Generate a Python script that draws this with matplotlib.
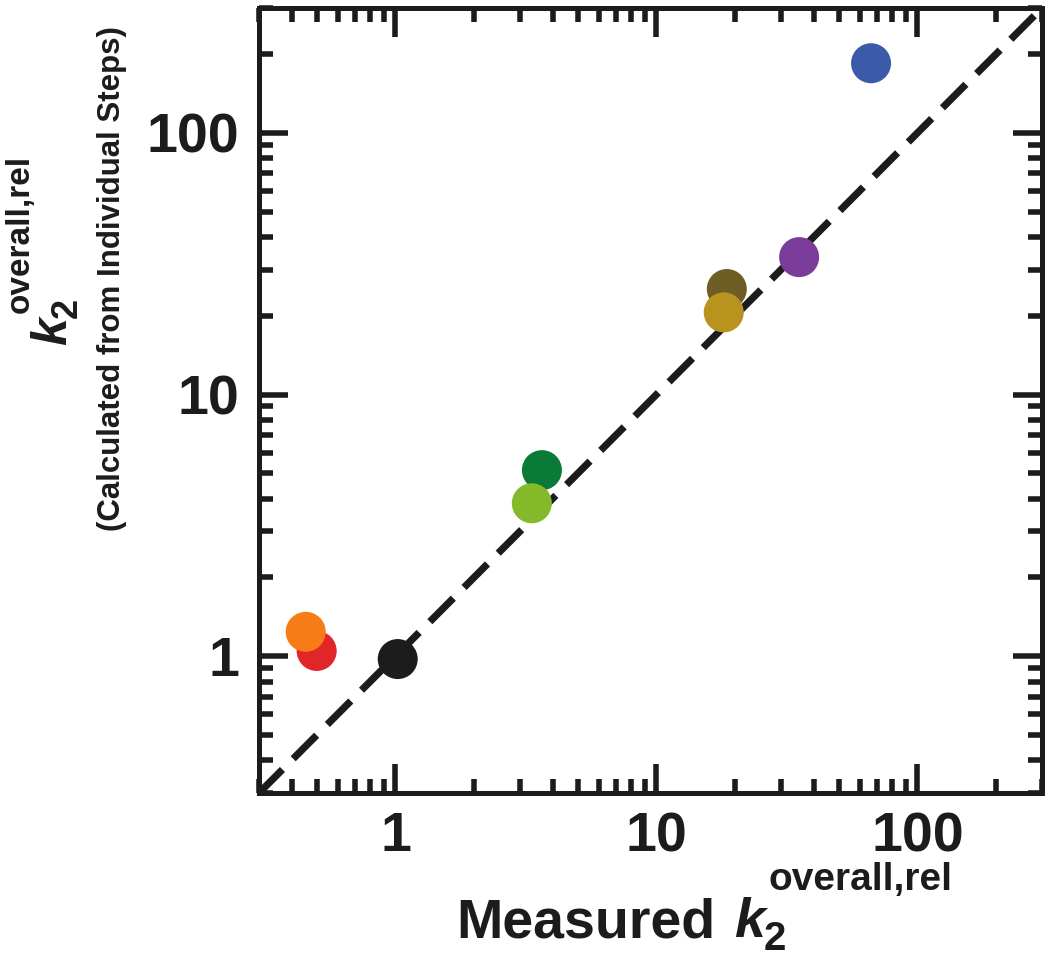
import matplotlib
matplotlib.use("Agg")
import matplotlib.pyplot as plt
from matplotlib import ticker, font_manager
from matplotlib.transforms import IdentityTransform

# ---- data ----
measured = [66.4, 35.2, 18.6, 18.1, 3.64, 3.33, 1.02, 0.499, 0.453]
calculated = [184.5, 33.5, 25.3, 20.6, 5.14, 3.84, 0.975, 1.047, 1.239]
colors = ["#3B5BAA", "#7B3B98", "#6E5E25", "#B8931E", "#0A7A36",
          "#84B92A", "#1C1C1C", "#E1262A", "#F77B16"]
lims = [0.3, 300]
tick_values = [1, 10, 100]
tick_labels = ["1", "10", "100"]


def has_font(name):
    try:
        font_manager.findfont(font_manager.FontProperties(family=name), fallback_to_default=False)
        return True
    except Exception:
        return False


narrow = has_font('Liberation Sans Narrow')
INK = '#1C1C1C'

W, H = 1050, 956
fig = plt.figure(figsize=(W / 100, H / 100), dpi=100)
ax = fig.add_axes([259 / W, 1 - 793 / H, 783 / W, 785 / H])
ax.set_xscale('log')
ax.set_yscale('log')
ax.set_xlim(lims)
ax.set_ylim(lims)

ax.plot(lims, lims, color=INK, lw=5.2, dashes=(4.6, 2.1),
        solid_capstyle='butt', dash_capstyle='butt', zorder=1)

for x, y, c in zip(measured, calculated, colors):
    ax.scatter([x], [y], s=830, color=c, edgecolors='none', zorder=3)

for sp in ax.spines.values():
    sp.set_linewidth(3.6)
    sp.set_color(INK)

ax.xaxis.set_major_locator(ticker.FixedLocator(tick_values))
ax.yaxis.set_major_locator(ticker.FixedLocator(tick_values))
ax.xaxis.set_major_formatter(ticker.FixedFormatter(tick_labels))
ax.yaxis.set_major_formatter(ticker.FixedFormatter(tick_labels))
ax.xaxis.set_minor_locator(ticker.LogLocator(base=10, subs=range(2, 10)))
ax.yaxis.set_minor_locator(ticker.LogLocator(base=10, subs=range(2, 10)))
ax.xaxis.set_minor_formatter(ticker.NullFormatter())
ax.yaxis.set_minor_formatter(ticker.NullFormatter())

ax.tick_params(which='both', direction='in', top=True, right=True, color=INK)
ax.tick_params(which='major', length=21, width=4)
ax.tick_params(which='minor', length=10, width=4)
ax.tick_params(axis='x', which='major', pad=13)
ax.tick_params(axis='y', which='major', pad=14)
for lab in ax.get_xticklabels() + ax.get_yticklabels():
    lab.set_fontsize(40)
    lab.set_fontweight('bold')
    lab.set_family('Liberation Sans')
    lab.set_color(INK)

renderer = fig.canvas.get_renderer()
ident = IdentityTransform()  # figure pixel coordinates, origin bottom-left


def put(x, y, s, size, style='normal', rot=0):
    t = fig.text(x, y, s, transform=ident, fontsize=size, fontweight='bold',
                 fontstyle=style, family='Liberation Sans', color=INK,
                 ha='left', va='baseline', rotation=rot, rotation_mode='anchor')
    return t, t.get_window_extent(renderer)


# ---- x label: "Measured k_2^{overall,rel}" ----
base_y = H - 937
t, bb = put(456, base_y, 'Measured', 40)
t, bbk = put(bb.x1 + 19, base_y, 'k', 40, 'italic')
put(bbk.x1 - 1, base_y - 13, '2', 29)
put(bbk.x1 + 4, base_y + 47, 'overall,rel', 28)

# ---- y label line 1: k_2^{overall,rel} rotated ----
base_x = 66
start_y = H - 345
t, bbk = put(base_x, start_y, 'k', 36, 'italic', rot=90)
put(base_x + 11, bbk.y1 - 1, '2', 26, rot=90)
put(base_x - 37, bbk.y1 + 4, 'overall,rel', 24, rot=90)

# ---- y label line 2 ----
if narrow:
    fig.text(112 / W, 1 - 279 / H, '(Calculated from Individual Steps)', rotation=90,
             ha='center', va='center', fontsize=28, fontweight='bold',
             family='Liberation Sans Narrow', color=INK)
else:
    fig.text(112 / W, 1 - 279 / H, '(Calculated from Individual Steps)', rotation=90,
             ha='center', va='center', fontsize=22.5, fontweight='bold',
             family='Liberation Sans', color=INK)

fig.savefig('out.png', dpi=100)
